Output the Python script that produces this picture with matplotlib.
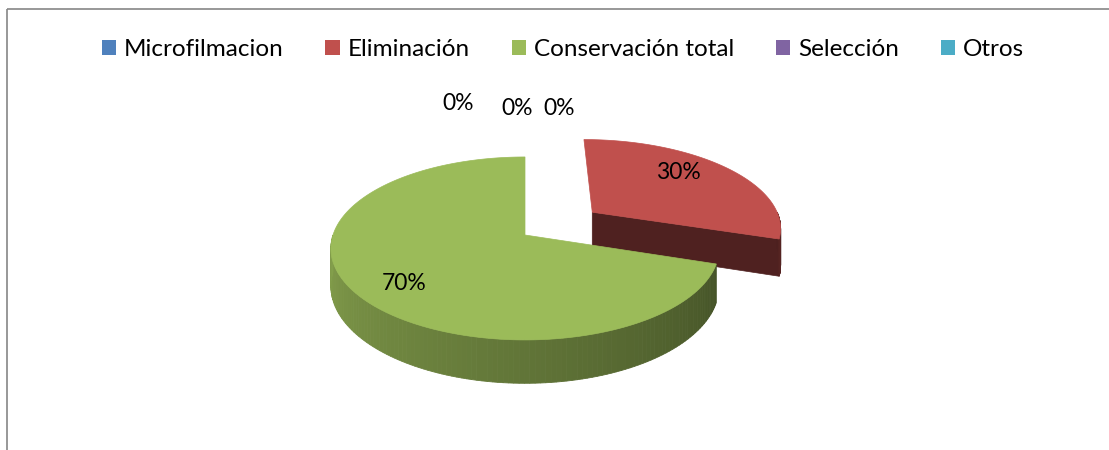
# Imports =====================================================================
import numpy as np
import matplotlib.pyplot as plt
from matplotlib.patches import Polygon, Patch

# Data ========================================================================
categories = ["Microfilmacion", "Eliminación", "Conservación total", "Selección", "Otros"]
values = [0, 30, 70, 0, 0]
colors = ["#4F81BD", "#C0504D", "#9BBB59", "#8064A2", "#4BACC6"]
explode = [0.0, 0.45, 0.0, 0.0, 0.0]

# Label nudges (pixels) away from the default anchor of each slice
label_nudge = [(-67, -37), (-3, -10), (-14, 12), (-8, -32), (34, -32)]

# 3D pie geometry (pixel space, y grows downward) ============================
W, HGT = 1109, 450
CX, CY = 525, 235      # pie centre on screen
A, B = 192, 89.5       # horizontal / vertical radius of the disc
K = 0.147              # perspective strength
DEPTH = 37             # thickness of the pie


def project(u, v, h=0.0):
    """Disc coords (u right, v back, h down) -> screen pixels."""
    d = 1 + K * v
    return CX + A * u / d, CY - B * v / d + DEPTH * h / d


def shade(hex_color, f):
    rgb = np.array([int(hex_color[i:i + 2], 16) for i in (1, 3, 5)]) / 255
    return tuple(np.clip(rgb * f, 0, 1))


def side_factor(theta):
    # lighter on the left of the front wall, darker on the right
    return 0.4 + 0.45 * (theta - 90) / 180


# Figure ======================================================================
fig = plt.figure(figsize=(W / 100, HGT / 100), dpi=100)
ax = fig.add_axes([0, 0, 1, 1])
ax.set_xlim(0, W)
ax.set_ylim(HGT, 0)
ax.axis("off")
plt.rcParams["font.family"] = ["Lato", "DejaVu Sans"]

total = sum(values)
starts = np.concatenate([[0], np.cumsum(values)[:-1]]) / total * 360
ends = np.cumsum(values) / total * 360
mids = (starts + ends) / 2

# back slices first, front slices last
order = sorted(range(len(values)), key=lambda i: -np.cos(np.radians(mids[i])))

for i in order:
    if values[i] == 0:
        continue
    t0, t1, col = starts[i], ends[i], colors[i]
    mr = np.radians(mids[i])
    ou, ov = explode[i] * np.sin(mr), explode[i] * np.cos(mr)

    def pt(theta, r=1.0, h=0.0):
        t = np.radians(theta)
        return project(ou + r * np.sin(t), ov + r * np.cos(t), h)

    # radial cut faces facing the viewer
    for edge, normal in ((t0, t0 - 90), (t1, t1 + 90)):
        if np.cos(np.radians(normal)) < -1e-6:
            quad = [pt(edge, 0, 0), pt(edge, 1, 0), pt(edge, 1, 1), pt(edge, 0, 1)]
            ax.add_patch(Polygon(quad, closed=True, facecolor=shade(col, 0.41),
                                 edgecolor=shade(col, 0.41), lw=0.5))

    # outer wall on the front half of the disc
    a0, a1 = max(t0, 90), min(t1, 270)
    if a1 > a0:
        th = np.linspace(a0, a1, 120)
        for ta, tb in zip(th[:-1], th[1:]):
            c = shade(col, side_factor((ta + tb) / 2))
            quad = [pt(ta), pt(tb), pt(tb, 1, 1), pt(ta, 1, 1)]
            ax.add_patch(Polygon(quad, closed=True, facecolor=c, edgecolor=c, lw=0.6))

    # top face
    th = np.linspace(t0, t1, 300)
    top = [pt(0, 0)] + [pt(t) for t in th]
    ax.add_patch(Polygon(top, closed=True, facecolor=col, edgecolor=col, lw=0.5))

# Data labels =================================================================
for i, v in enumerate(values):
    mr = np.radians(mids[i])
    if v == 0:
        lx, ly = project(1.25 * np.sin(mr), 1.25 * np.cos(mr))
    else:
        ou, ov = explode[i] * np.sin(mr), explode[i] * np.cos(mr)
        lx, ly = project(ou + 0.65 * np.sin(mr), ov + 0.65 * np.cos(mr))
    dx, dy = label_nudge[i]
    ax.text(lx + dx, ly + dy, f"{round(v / total * 100)}%", fontsize=16.5,
            ha="center", va="center", color="black")

# Legend ======================================================================
handles = [Patch(facecolor=c, edgecolor="none") for c in colors]
fig.legend(handles, categories, loc="center", bbox_to_anchor=(563 / W, 1 - 50 / HGT),
           ncol=5, frameon=False, fontsize=17.5, handlelength=0.58, handleheight=0.58,
           handletextpad=0.33, columnspacing=1.73)

# Chart border (top and left edges) ===========================================
ax.plot([7, W], [9, 9], color="#868686", lw=1.2, solid_capstyle="butt")
ax.plot([7, 7], [9, HGT], color="#868686", lw=1.2, solid_capstyle="butt")

plt.savefig("out.png", dpi=100)

# ##### END OF FILE ###########################################################
